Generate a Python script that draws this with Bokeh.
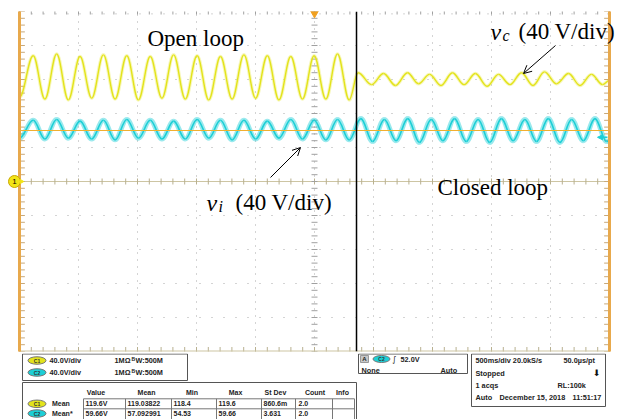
import numpy as np
from bokeh.plotting import figure
from bokeh.models import Range1d, Grid, FixedTicker, Span, Label, Arrow, OpenHead, NormalHead
from bokeh.layouts import column
from bokeh.embed import file_html
from bokeh.resources import INLINE
from bokeh.core.properties import value

# ------------------------------------------------------------------ data
T_DIV = 0.5     # s / div  (500 ms/div)
V_DIV = 40.0    # V / div
switch_t = 2.856        # open loop -> closed loop instant (s)
ch2_ref_v = 60.0        # orange reference line (V)
trig_level_v = 52.0     # trigger level (V)

# channel 1 (yellow, v_c) : open loop extremes
c1_open_peak_t = [0.116, 0.315, 0.513, 0.711, 0.909, 1.108, 1.306, 1.505, 1.703, 1.902, 2.100, 2.299, 2.497, 2.695]
c1_open_peak_v = [148, 150, 147, 149, 148, 147, 149, 148, 147, 149, 148, 147, 148, 150]
c1_open_trough_t = [0.0, 0.215, 0.414, 0.612, 0.810, 1.008, 1.207, 1.405, 1.604, 1.802, 2.001, 2.199, 2.398, 2.596, 2.794]
c1_open_trough_v = [99, 97, 96, 98, 97, 96, 98, 97, 96, 97, 98, 96, 97, 97, 96]
# channel 1 : closed loop extremes
c1_closed_peak_t = [2.870, 3.085, 3.288, 3.475, 3.669, 3.864, 4.059, 4.254, 4.449, 4.653, 4.847]
c1_closed_peak_v = [128, 127, 128, 126, 128, 127, 126, 128, 129, 127, 126]
c1_closed_trough_t = [2.983, 3.186, 3.381, 3.572, 3.767, 3.962, 4.157, 4.352, 4.551, 4.750, 4.941, 5.0]
c1_closed_trough_v = [114, 113, 115, 113, 114, 112, 114, 113, 115, 113, 114, 119]

# channel 2 (cyan, v_i) extremes
c2_peak_t = [0.116, 0.315, 0.513, 0.711, 0.909, 1.108, 1.306, 1.505, 1.703, 1.902, 2.100, 2.299, 2.497,
             2.695, 2.893, 3.092, 3.290, 3.489, 3.687, 3.886, 4.084, 4.283, 4.481, 4.679, 4.877]
c2_peak_v = [72, 73, 71, 72, 73, 72, 71, 73, 72, 72, 71, 73, 72,
             73, 74, 73, 74, 73, 74, 73, 74, 73, 74, 73, 74]
c2_trough_t = [0.0, 0.215, 0.414, 0.612, 0.810, 1.008, 1.207, 1.405, 1.604, 1.802, 2.001, 2.199, 2.398, 2.596,
               2.794, 2.992, 3.191, 3.389, 3.588, 3.786, 3.985, 4.183, 4.382, 4.580, 4.778, 4.976, 5.0]
c2_trough_v = [51, 50, 51, 50, 49, 51, 50, 50, 51, 49, 50, 51, 50, 49,
               49, 47, 48, 46, 48, 47, 46, 48, 47, 46, 48, 47, 48]

# readout panel
ch_scale = ["40.0V/div", "40.0V/div"]
ch_names = ["C1", "C2"]
meas_headers = ["Value", "Mean", "Min", "Max", "St Dev", "Count", "Info"]
meas_rows = ["Mean", "Mean*"]
c1_meas = ["119.6V", "119.03822", "118.4", "119.6", "860.6m", "2.0"]
c2_meas = ["59.66V", "57.092991", "54.53", "59.66", "3.631", "2.0"]
trig_text = "52.0V"
timebase = ["500ms/div 20.0kS/s", "50.0\u00b5s/pt", "Stopped", "1 acqs", "RL:100k",
            "Auto", "December 15, 2018", "11:51:17"]

YEL = "#e3e31c"
CYA = "#1ccfd6"
ORG = "#e8a94c"
KHA = "#cdc5a3"

# ------------------------------------------------------------------ helpers (page pixel -> data, for annotations only)
def tx(px):
    return (px - 19) / 59.0 * T_DIV

def vy(py):
    return (181 - py) / 34.0 * V_DIV

def merge(t1, v1, t2, v2):
    pts = sorted(zip(list(t1) + list(t2), list(v1) + list(v2)))
    return np.array([a for a, _ in pts]), np.array([b for _, b in pts])

K = 1 - 2 / np.pi

def trace(p, t, v, color, w_under, a_under, w_main):
    dt = np.diff(t)
    args = dict(x0=t[:-1], y0=v[:-1], x1=t[1:], y1=v[1:],
                cx0=t[:-1] + K * dt, cy0=v[:-1], cx1=t[1:] - K * dt, cy1=v[1:])
    p.bezier(**args, line_color=color, line_width=w_under, line_alpha=a_under)
    p.bezier(**args, line_color=color, line_width=w_main, line_alpha=1.0)

T0, T1 = 0.0, 10 * T_DIV
V0, V1 = -5 * V_DIV, 5 * V_DIV

# ------------------------------------------------------------------ scope screen
p = figure(width=627, height=353, x_range=Range1d(tx(0), tx(627)), y_range=Range1d(V0, V1),
           x_axis_type=None, y_axis_type=None, toolbar_location=None, output_backend="svg",
           min_border_left=0, min_border_right=0, min_border_top=11, min_border_bottom=2,
           outline_line_color=None, background_fill_color="white", border_fill_color="white")

xg = Grid(dimension=0, ticker=FixedTicker(ticks=[T_DIV * i for i in (1, 2, 3, 4, 5, 6, 7, 8, 9)]),
          grid_line_color="#a8a8a8", grid_line_dash="1 6", grid_line_width=1)
p.add_layout(xg)

minor_t = np.round(np.arange(T0, T1 + 1e-9, T_DIV / 5), 4)
minor_v = np.round(np.arange(V0, V1 + 1e-9, V_DIV / 5), 4)
grid_v = [V_DIV * i for i in (-4, -3, -2, -1, 1, 2, 3, 4)] + [4.93 * V_DIV]
# horizontal dotted graticule, bounded to the screen
p.segment(x0=[T0] * len(grid_v), y0=grid_v, x1=[T1] * len(grid_v), y1=grid_v,
          line_color="#a8a8a8", line_dash="1 11", line_width=1)
p.segment(x0=[T0], y0=[0], x1=[T1], y1=[0], line_color=KHA, line_width=1)

# tick marks on centre cross and frame edges
p.scatter(minor_t, np.zeros_like(minor_t), marker="dash", angle=np.pi / 2, size=6, line_color="#b8b090", line_width=1)
p.scatter(np.full_like(minor_v, 5 * T_DIV), minor_v, marker="dash", size=6, line_color="#a0a0a0", line_width=1)
p.scatter(minor_t, np.full_like(minor_t, V0), marker="dash", angle=np.pi / 2, size=9, line_color="#b8b090", line_width=1)
p.scatter(minor_t, np.full_like(minor_t, V1), marker="dash", angle=np.pi / 2, size=6, line_color="#a0a0a0", line_width=1)
p.scatter(np.full_like(minor_v, T0) + 0.02, minor_v, marker="dash", size=6, line_color="#c8a878", line_width=1)
p.scatter(np.full_like(minor_v, T1) - 0.02, minor_v, marker="dash", size=6, line_color="#c8a878", line_width=1)

# traces
c1_t, c1_v = merge(c1_open_peak_t + c1_closed_peak_t, c1_open_peak_v + c1_closed_peak_v,
                   c1_open_trough_t + c1_closed_trough_t, c1_open_trough_v + c1_closed_trough_v)
c2_t, c2_v = merge(c2_peak_t, c2_peak_v, c2_trough_t, c2_trough_v)
trace(p, c2_t, c2_v, CYA, 5, 0.45, 1.6)
trace(p, c1_t, c1_v, YEL, 3.5, 0.3, 1.4)
p.segment(x0=[T0], y0=[ch2_ref_v], x1=[T1], y1=[ch2_ref_v], line_color="#f0b030", line_width=1)

# frame edges, switch line, markers
p.segment(x0=[T0], y0=[V0], x1=[T1], y1=[V0], line_color=KHA, line_width=2)
p.segment(x0=[T0, T1], y0=[V0 - 3, V0 - 3], x1=[T0, T1], y1=[V1 + 3, V1 + 3], line_color=ORG, line_width=3)
p.add_layout(Span(location=switch_t, dimension="height", line_color="black", line_width=1.5))
p.scatter([5 * T_DIV], [4.95 * V_DIV], marker="inverted_triangle", size=8, fill_color="#f0a020", line_color="#f0a020")
p.add_layout(Arrow(end=NormalHead(size=5, fill_color=CYA, line_color=CYA), line_color=CYA, line_width=1.5,
                   x_start=tx(607), y_start=trig_level_v, x_end=tx(597), y_end=trig_level_v))
p.scatter([tx(14)], [0], marker="circle", size=12, fill_color="#f2e416", line_color="#c9a800")
p.scatter([tx(21)], [0], marker="triangle", angle=-np.pi / 2, size=4, fill_color="#f2e416", line_color="#f2e416")
p.text(x=[tx(14)], y=[0], text=["1"], text_font=value("Liberation Sans"), text_font_size="8px",
       text_align="center", text_baseline="middle", text_color="black")

# texts
serif = "Liberation Serif"
p.add_layout(Label(x=tx(147), y=vy(38), text="Open loop", text_font=serif, text_font_size="23px",
                   text_baseline="alphabetic", text_color="black"))
p.add_layout(Label(x=tx(437), y=vy(187), text="Closed loop", text_font=serif, text_font_size="23px",
                   text_baseline="alphabetic", text_color="black"))
p.add_layout(Label(x=tx(490), y=vy(31), text="v", text_font=serif, text_font_style="italic",
                   text_font_size="24px", text_baseline="alphabetic", text_color="black"))
p.add_layout(Label(x=tx(502), y=vy(35), text="c", text_font=serif, text_font_style="italic",
                   text_font_size="16px", text_baseline="alphabetic", text_color="black"))
p.add_layout(Label(x=tx(518), y=vy(31), text="(40 V/div)", text_font=serif, text_font_size="23px",
                   text_baseline="alphabetic", text_color="black"))
p.add_layout(Label(x=tx(206), y=vy(202), text="v", text_font=serif, text_font_style="italic",
                   text_font_size="24px", text_baseline="alphabetic", text_color="black"))
p.add_layout(Label(x=tx(218), y=vy(206), text="i", text_font=serif, text_font_style="italic",
                   text_font_size="16px", text_baseline="alphabetic", text_color="black"))
p.add_layout(Label(x=tx(235), y=vy(202), text="(40 V/div)", text_font=serif, text_font_size="23px",
                   text_baseline="alphabetic", text_color="black"))
p.add_layout(Arrow(end=OpenHead(size=8, line_width=1, line_color="black"), line_color="black", line_width=1,
                   x_start=tx(555), y_start=vy(45), x_end=tx(523), y_end=vy(73)))
p.add_layout(Arrow(end=OpenHead(size=8, line_width=1, line_color="black"), line_color="black", line_width=1,
                   x_start=tx(270), y_start=vy(177), x_end=tx(300), y_end=vy(147)))

# ------------------------------------------------------------------ readout panel (page pixel coordinates)
q = figure(width=627, height=66, x_range=Range1d(0, 627), y_range=Range1d(419, 353),
           x_axis_type=None, y_axis_type=None, toolbar_location=None, output_backend="svg",
           min_border_left=0, min_border_right=0, min_border_top=0, min_border_bottom=0,
           outline_line_color=None, background_fill_color="white", border_fill_color="white")

FONT = value("Liberation Sans")
box = dict(fill_color=None, line_color="#555555", line_width=1)
q.quad(left=[22, 358, 471], right=[187, 467, 605], top=[353.5, 353.5, 353.5], bottom=[380, 373, 406], **box)
q.quad(left=[22], right=[356], top=[382], bottom=[426], **box)

# channel settings
q.ellipse(x=[36.5, 36.5], y=[360, 372], width=18, height=7.5, fill_color=[YEL, CYA], line_color="#777777")
q.text(x=[36.5, 36.5], y=[360, 372], text=ch_names, text_font=FONT, text_font_style="bold", text_font_size="5px",
       text_align="center", text_baseline="middle", text_color="#333333")
q.text(x=[49, 49, 114, 114, 135, 135], y=[360, 372, 360, 372, 360, 372],
       text=ch_scale + ["1M\u03a9", "1M\u03a9", "W:500M", "W:500M"], text_font=FONT, text_font_style="bold",
       text_font_size="7.3px", text_baseline="middle", text_color="#222222")
q.text(x=[131, 131], y=[358, 370], text=["B", "B"], text_font=FONT, text_font_style="bold",
       text_font_size="5px", text_baseline="middle", text_color="#222222")

# measurement table
hx = [95.5, 146, 191.5, 235, 275, 314.5, 342]
q.text(x=hx, y=[392] * len(hx), text=meas_headers, text_font=FONT, text_font_style="bold", text_font_size="7px",
       text_align="center", text_baseline="middle", text_color="#222222")
cb = [83, 125, 171, 216, 261, 295, 332, 354]
q.segment(x0=cb, y0=[398.3] * len(cb), x1=cb, y1=[426] * len(cb), line_color="#777777", line_width=1)
q.segment(x0=[83, 83], y0=[398.3, 408.3], x1=[354, 354], y1=[398.3, 408.3], line_color="#777777", line_width=1)
q.ellipse(x=[36.5, 36.5], y=[403.3, 413], width=18, height=7.5, fill_color=[YEL, CYA], line_color="#777777")
q.text(x=[36.5, 36.5], y=[403.3, 413], text=ch_names, text_font=FONT, text_font_style="bold", text_font_size="5px",
       text_align="center", text_baseline="middle", text_color="#333333")
q.text(x=[51.5, 51.5], y=[403.3, 413], text=meas_rows, text_font=FONT, text_font_style="bold", text_font_size="7px",
       text_baseline="middle", text_color="#222222")
cx = [85, 127, 173, 218, 263, 298]
q.text(x=cx + cx, y=[403.3] * 6 + [413] * 6, text=c1_meas + c2_meas, text_font=FONT, text_font_style="bold",
       text_font_size="7px", text_baseline="middle", text_color="#222222")

# trigger box
q.quad(left=[360], right=[368], top=[355], bottom=[362], fill_color="#c8c8c8", line_color="#999999")
q.text(x=[364], y=[358.5], text=["A"], text_font=FONT, text_font_style="bold", text_font_size="6px",
       text_align="center", text_baseline="middle", text_color="#222222")
q.ellipse(x=[381], y=[358.5], width=17, height=7, fill_color=CYA, line_color="#777777")
q.text(x=[381], y=[358.5], text=["C2"], text_font=FONT, text_font_style="bold", text_font_size="5px",
       text_align="center", text_baseline="middle", text_color="#333333")
q.text(x=[391.5], y=[358.5], text=["\u222b"], text_font=value("DejaVu Sans"), text_font_size="8px",
       text_baseline="middle", text_color="#222222")
q.text(x=[400, 361, 440], y=[358.5, 370, 370], text=[trig_text, "None", "Auto"], text_font=FONT,
       text_font_style="bold", text_font_size="7.3px", text_baseline="middle", text_color="#222222")

# timebase box
q.text(x=[475, 563, 475, 475, 557, 475, 499, 572], y=[360, 360, 373, 385, 385, 396.5, 396.5, 396.5],
       text=timebase, text_font=FONT, text_font_style="bold", text_font_size="7.3px",
       text_baseline="middle", text_color="#222222")
q.text(x=[596], y=[372], text=["\u2b07"], text_font=value("DejaVu Sans"), text_font_size="9px",
       text_align="center", text_baseline="middle", text_color="#111111")

layout = column(p, q, spacing=0)
open("out.html", "w").write(file_html(layout, INLINE))
